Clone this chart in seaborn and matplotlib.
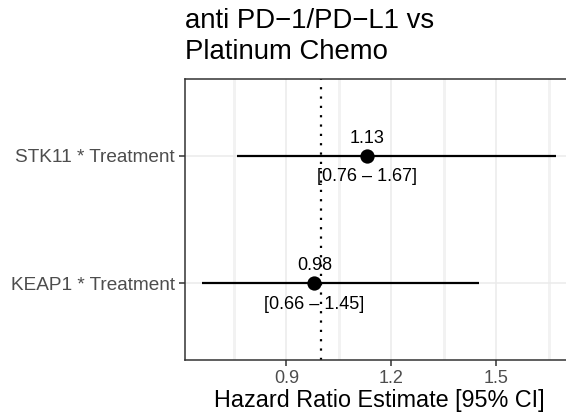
import matplotlib
matplotlib.use("Agg")
import matplotlib.pyplot as plt
import seaborn as sns
import pandas as pd
from matplotlib.ticker import FixedLocator, NullLocator

terms = ["STK11 * Treatment", "KEAP1 * Treatment"]
hr = [1.13, 0.98]
ci_low = [0.76, 0.66]
ci_high = [1.67, 1.45]
x_ticks = [0.9, 1.2, 1.5]
x_minor = [0.75, 1.05, 1.35, 1.65]
title = "anti PD\u22121/PD\u2212L1 vs\nPlatinum Chemo"
x_label = "Hazard Ratio Estimate [95% CI]"

df = pd.DataFrame({"term": terms, "hr": hr, "lo": ci_low, "hi": ci_high})

sns.set_theme(style="white")
plt.rcParams["font.family"] = ["Liberation Sans", "DejaVu Sans"]

W, H = 566, 416
fig = plt.figure(figsize=(W / 100, H / 100), dpi=100)
left, right, top, bottom = 184.7, 573.7, 79, 360
ax = fig.add_axes([left / W, 1 - bottom / H, (right - left) / W, (bottom - top) / H])

ypos = list(range(len(terms)))

for xv in x_ticks:
    ax.axvline(xv, color="#EBEBEB", linewidth=1.1, zorder=0, snap=True)
for xv in x_minor:
    ax.axvline(xv, color="#F2F2F2", linewidth=1.0, zorder=0, snap=True,
               antialiased=False)
for yv in ypos:
    ax.axhline(yv, color="#EBEBEB", linewidth=1.1, zorder=0)

ax.hlines(ypos, df["lo"], df["hi"], color="black", linewidth=1.6, zorder=3)
ax.axvline(1.0, color="black", linestyle=(0, (1, 3.2)), linewidth=1.6, zorder=2)
sns.scatterplot(data=df, x="hr", y="term", ax=ax, color="black", s=106,
                edgecolor="black", linewidth=0, zorder=4, legend=False)

for i, row in df.iterrows():
    ax.annotate(f"{row['hr']:.2f}", (row["hr"], i), xytext=(0, 6.5),
                textcoords="offset points", ha="center", va="bottom",
                fontsize=13, color="black", zorder=5)
    ax.annotate(f"[{row['lo']:.2f} \u2013 {row['hi']:.2f}]", (row["hr"], i),
                xytext=(0, -9), textcoords="offset points", ha="center",
                va="top", fontsize=13, color="black", zorder=5)

span = max(ci_high) - min(ci_low)
ax.set_xlim(min(ci_low) - 0.05 * span, max(ci_high) + 0.05 * span)
ax.set_ylim(len(terms) - 1 + 0.6, -0.6)
ax.set_yticks(ypos)
ax.set_yticklabels(terms)
ax.xaxis.set_major_locator(FixedLocator(x_ticks))
ax.xaxis.set_minor_locator(NullLocator())
ax.set_xticklabels([f"{t:g}" for t in x_ticks])
ax.grid(False)

for s in ax.spines.values():
    s.set_color("#333333")
    s.set_linewidth(1.1)
ax.spines["right"].set_visible(False)
ax.tick_params(axis="both", which="major", length=4, width=1.1, color="#333333",
               labelsize=13, labelcolor="#4D4D4D", pad=3)
ax.tick_params(axis="y", labelsize=13.7)
ax.tick_params(left=True, bottom=True, right=False, top=False)

ax.set_ylabel("")
ax.set_xlabel(x_label, fontsize=16.8, color="black", labelpad=2)

fig.text(left / W, 1 - 7.5 / H, title, ha="left", va="top", fontsize=19.8,
         color="black", linespacing=1.28)

fig.savefig("out.png", dpi=100)
